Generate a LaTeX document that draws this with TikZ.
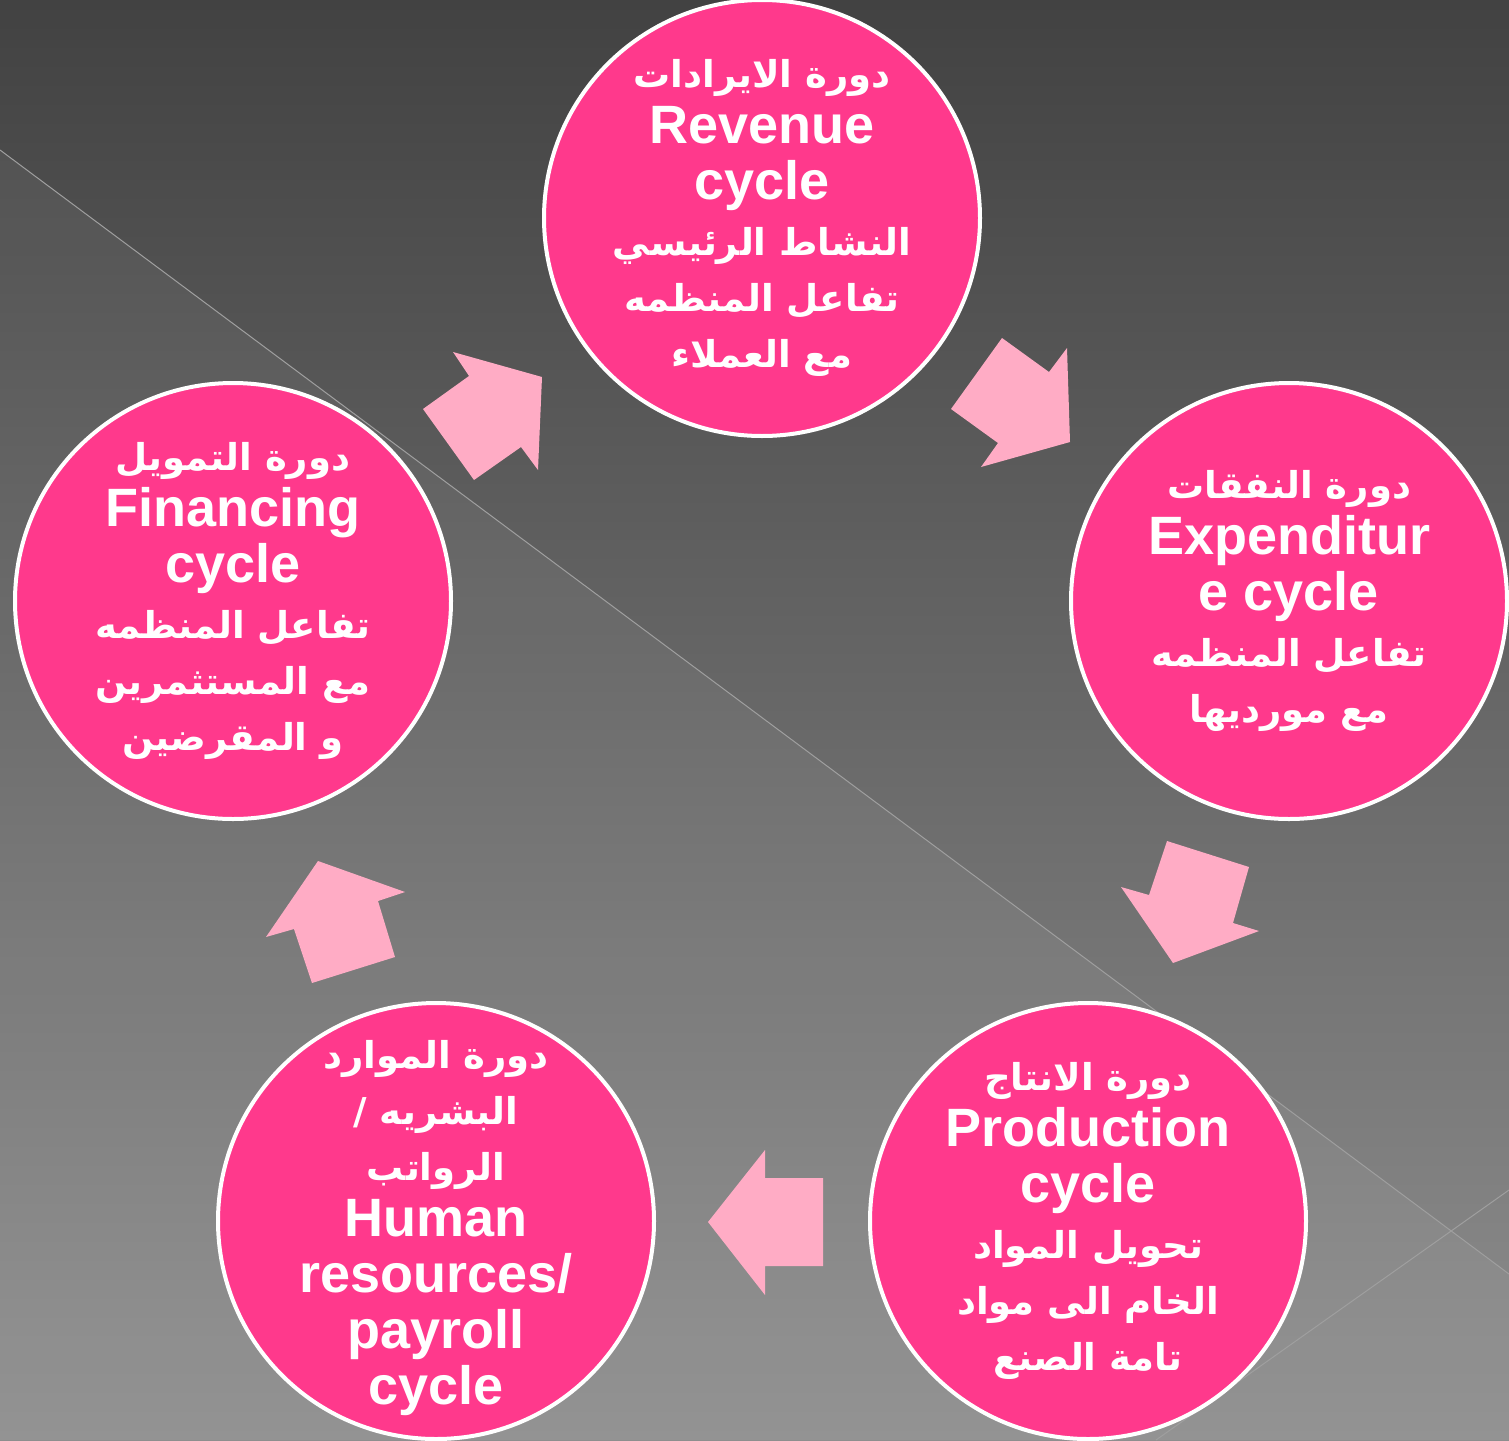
\documentclass[tikz,border=0pt]{standalone}
\usepackage{fontspec}
\setmainfont{Liberation Sans}
\newfontfamily\arabicfont[Script=Arabic]{DejaVu Sans}
\TeXXeTstate=1
\definecolor{cyclepink}{RGB}{255,57,140}
\definecolor{arrowpink}{RGB}{255,172,197}
\definecolor{bgtop}{RGB}{66,66,66}
\definecolor{bgbottom}{RGB}{142,142,142}
\newcommand{\ar}[1]{{\arabicfont\fontsize{37}{56}\selectfont\beginR #1\endR}}

\begin{document}
\begin{tikzpicture}[x=1pt,y=-1pt,
  cyclenode/.style={circle,minimum size=436pt,inner sep=0pt,fill=cyclepink,draw=white,line width=4pt},
  cycletext/.style={text=white,align=center,inner sep=0pt,font=\bfseries\fontsize{54}{56}\selectfont},
  arrowfill/.style={fill=arrowpink},
  bgline/.style={draw=gray!75,line width=1pt}]
\useasboundingbox (0,0) rectangle (1509,1440);
\clip (0,0) rectangle (1509,1440);
% background
\shade[top color=bgtop,bottom color=bgbottom] (0,0) rectangle (1509,1440);
\fill[white,opacity=0.05] (0,150) -- (1509,1274) -- (1509,1440) -- (0,1440) -- cycle;
\draw[bgline] (0,150) -- (1509,1274);
\draw[bgline] (1509,1190) -- (1156,1440);

% arrows
\fill[arrowfill] (453,352) -- (542,377) -- (538,470) -- (521,447) -- (474,480) -- (423,409) -- (469,376) -- cycle;
\fill[arrowfill] (1002,338) -- (1049,372) -- (1067,348) -- (1070,442) -- (981,467) -- (998,443) -- (951,409) -- cycle;
\fill[arrowfill] (1167,841) -- (1249,867) -- (1233,923) -- (1259,931) -- (1173,963) -- (1121,887) -- (1149,895) -- cycle;
\fill[arrowfill] (765,1150) -- (765,1178) -- (823,1178) -- (823,1266) -- (765,1266) -- (765,1295) -- (708,1222) -- cycle;
\fill[arrowfill] (318,861) -- (405,892) -- (378,901) -- (395,957) -- (312,983) -- (294,929) -- (266,937) -- cycle;

% cycles
\node[cyclenode] (revenue) at (762,218) {};
\node[cyclenode] (expenditure) at (1289,601) {};
\node[cyclenode] (production) at (1088,1221) {};
\node[cyclenode] (payroll) at (436,1221) {};
\node[cyclenode] (financing) at (233,601) {};

\node[cycletext] (revenuetext) at (revenue)
  {\ar{دورة الايرادات}\\Revenue\\cycle\\\ar{النشاط الرئيسي}\\\ar{تفاعل المنظمه}\\\ar{مع العملاء}};
\node[cycletext] (expendituretext) at (expenditure)
  {\ar{دورة النفقات}\\Expenditur\\e cycle\\\ar{تفاعل المنظمه}\\\ar{مع مورديها}};
\node[cycletext] (productiontext) at (production)
  {\ar{دورة الانتاج}\\Production\\cycle\\\ar{تحويل المواد}\\\ar{الخام الى مواد}\\\ar{تامة الصنع}};
\node[cycletext] (payrolltext) at ([yshift=-7pt]payroll.center)
  {\ar{دورة الموارد}\\\ar{البشريه  /}\\\ar{الرواتب}\\Human\\resources/\\payroll\\cycle};
\node[cycletext] (financingtext) at (financing)
  {\ar{دورة التمويل}\\Financing\\cycle\\\ar{تفاعل المنظمه}\\\ar{مع المستثمرين}\\\ar{و المقرضين}};
\end{tikzpicture}
\end{document}
